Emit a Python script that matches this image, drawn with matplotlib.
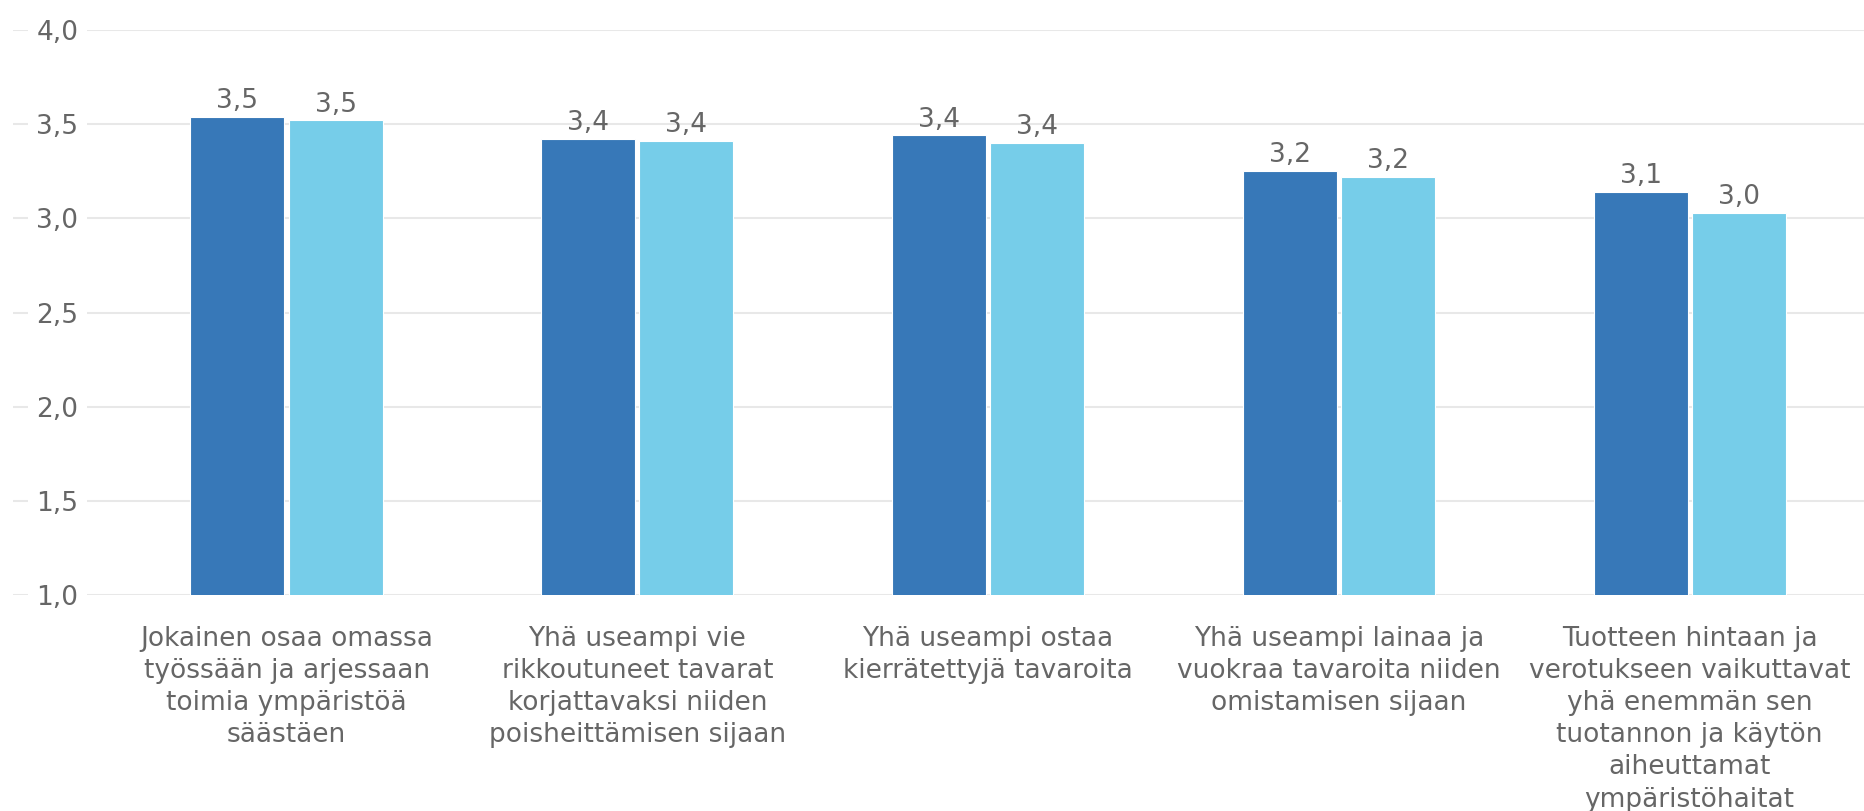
import numpy as np
import matplotlib.pyplot as plt

categories = [
    "Jokainen osaa omassa\ntyössään ja arjessaan\ntoimia ympäristöä\nsäästäen",
    "Yhä useampi vie\nrikkoutuneet tavarat\nkorjattavaksi niiden\npoisheittämisen sijaan",
    "Yhä useampi ostaa\nkierrätettyjä tavaroita",
    "Yhä useampi lainaa ja\nvuokraa tavaroita niiden\nomistamisen sijaan",
    "Tuotteen hintaan ja\nverotukseen vaikuttavat\nyhä enemmän sen\ntuotannon ja käytön\naiheuttamat\nympäristöhaitat",
]
series_a = [3.54, 3.42, 3.44, 3.25, 3.14]
series_b = [3.52, 3.41, 3.40, 3.22, 3.03]
y_ticks = [1.0, 1.5, 2.0, 2.5, 3.0, 3.5, 4.0]

dark = '#3778b8'
light = '#76cde9'
grey = '#666666'

fig = plt.figure(figsize=(18.65, 8.11), dpi=100)
ax = fig.add_axes([13/1865, 1 - 595/811, 1 - 13/1865, (595 - 30)/811])

x = np.arange(len(categories))
w = 0.268
gap = 0.006
b1 = ax.bar(x - w/2 - gap, series_a, w, bottom=0, color=dark, edgecolor='white', linewidth=0.8)
b2 = ax.bar(x + w/2 + gap, series_b, w, bottom=0, color=light, edgecolor='white', linewidth=0.8)

fmt = lambda v: f"{v:.1f}".replace('.', ',')
ax.bar_label(b1, labels=[fmt(v) for v in series_a], padding=2, color=grey, fontsize=19)
ax.bar_label(b2, labels=[fmt(v) for v in series_b], padding=2, color=grey, fontsize=19)

ax.set_ylim(1.0, 4.0)
ax.set_xlim(-0.78, 4.5)
ax.set_yticks(y_ticks)
ax.set_yticklabels([fmt(v) for v in y_ticks])
ax.tick_params(axis='y', length=0, pad=-47, labelsize=19, labelcolor=grey)
for lab in ax.get_yticklabels():
    lab.set_bbox(dict(facecolor='white', edgecolor='none', pad=6))

ax.set_xticks(x)
ax.set_xticklabels(categories, fontsize=19, color=grey, linespacing=1.31, va='top')
ax.tick_params(axis='x', length=0, pad=22)

ax.grid(axis='y', color='#e8e8e8', linewidth=1.5)
ax.set_axisbelow(True)
for s in ax.spines.values():
    s.set_visible(False)

fig.savefig('out.png', dpi=100)
